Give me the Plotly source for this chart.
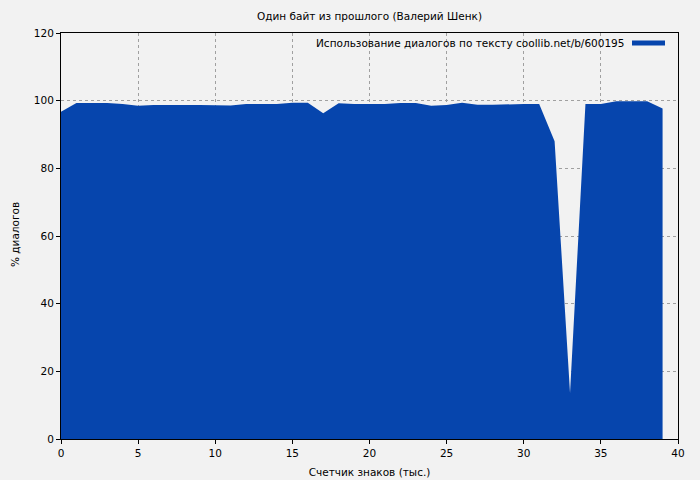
import plotly.graph_objects as go

x_vals = list(range(0, 40))
y_vals = [96.7, 99.3, 99.3, 99.3, 99.0, 98.5, 98.7, 98.8, 98.7, 98.7,
          98.7, 98.6, 99.0, 99.0, 99.0, 99.4, 99.4, 96.3, 99.2, 99.0,
          99.0, 99.0, 99.3, 99.3, 98.5, 98.7, 99.4, 98.8, 98.8, 99.0,
          99.0, 99.0, 88.0, 13.6, 99.0, 99.0, 99.8, 99.8, 99.8, 97.7]
series_name = "Использование диалогов по тексту coollib.net/b/600195"
title_text = "Один байт из прошлого (Валерий Шенк)"
x_title = "Счетчик знаков (тыс.)"
y_title = "% диалогов"
color = "#0645ad"
bg = "#f2f2f2"

# page body adds an 8px offset, so the figure is 692x472 with shifted margins
W, H = 692, 472
L, R, T, B = 53, 22, 25, 41
PW, PH = W - L - R, H - T - B

fig = go.Figure()
fig.add_trace(go.Scatter(x=x_vals, y=y_vals, mode="lines", fill="tozeroy",
                         line=dict(color=color, width=0), fillcolor=color,
                         showlegend=False, hoverinfo="x+y"))

leg_y = 1 - 10 / PH
fig.add_annotation(text=series_name, xref="paper", yref="paper",
                   x=(626 - 61) / PW, y=leg_y,
                   xanchor="right", yanchor="middle", showarrow=False,
                   font=dict(size=10.5, color="#000000", family="DejaVu Sans"))
fig.add_shape(type="line", xref="paper", yref="paper",
              x0=(632 - 61) / PW, x1=(665 - 61) / PW,
              y0=leg_y, y1=leg_y,
              line=dict(color=color, width=5))

# y-axis title as rotated annotation for precise placement
fig.add_annotation(text=y_title, xref="paper", yref="paper",
                   x=(15 - 61) / PW, y=1 - (235 - 33) / PH,
                   xanchor="center", yanchor="middle", textangle=-90, showarrow=False,
                   font=dict(size=10.5, color="#000000", family="DejaVu Sans"))

axis_common = dict(showline=True, linecolor="#000000", linewidth=1, mirror=True,
                   ticks="outside", ticklen=4, tickcolor="#000000",
                   showgrid=True, gridcolor="#a0a0a0", griddash="dot", gridwidth=1,
                   zeroline=False, automargin=False,
                   tickfont=dict(size=10.5, color="#000000"))

fig.update_layout(
    width=W, height=H,
    margin=dict(l=L, r=R, t=T, b=B),
    paper_bgcolor=bg, plot_bgcolor=bg,
    font=dict(family="DejaVu Sans", size=10.5, color="#000000"),
    title=dict(text=title_text, x=(61 + 617 / 2 - 8) / W, xanchor="center",
               y=1 - 8 / H, yanchor="middle", font=dict(size=10.5)),
    xaxis=dict(range=[0, 40], tickvals=[0, 5, 10, 15, 20, 25, 30, 35, 40],
               title=dict(text=x_title, font=dict(size=10.5), standoff=11), **axis_common),
    yaxis=dict(range=[0, 120], tickvals=[0, 20, 40, 60, 80, 100, 120], **axis_common),
    showlegend=False,
)

fig.write_html("out.html",
               post_script="document.body.style.background='%s';"
                           "document.documentElement.style.background='%s';" % (bg, bg))
